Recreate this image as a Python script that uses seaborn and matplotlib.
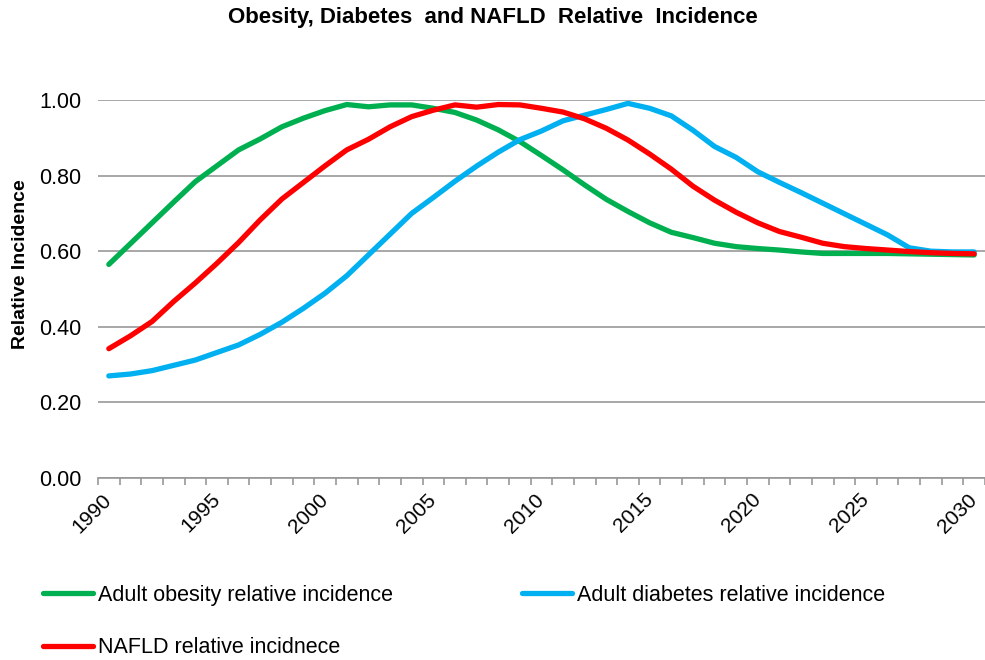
"""Obesity, diabetes and NAFLD relative incidence, 1990-2030."""

import matplotlib

matplotlib.use("Agg")

import matplotlib.pyplot as plt
import pandas as pd
import seaborn as sns
from matplotlib.ticker import FixedLocator

# ----------------------------------------------------------------------------
# data
# ----------------------------------------------------------------------------

years = list(range(1990, 2031))

obesity = [
    0.565, 0.620, 0.675, 0.730, 0.784, 0.826, 0.868, 0.897, 0.929, 0.952,
    0.972, 0.988, 0.982, 0.987, 0.987, 0.978, 0.967, 0.947, 0.921, 0.890,
    0.853, 0.815, 0.775, 0.737, 0.705, 0.675, 0.650, 0.636, 0.621, 0.612,
    0.607, 0.603, 0.598, 0.594, 0.594, 0.594, 0.594, 0.593, 0.592, 0.591,
    0.590,
]
diabetes = [
    0.270, 0.275, 0.284, 0.298, 0.312, 0.332, 0.352, 0.380, 0.412, 0.449,
    0.489, 0.535, 0.590, 0.645, 0.700, 0.742, 0.785, 0.825, 0.862, 0.895,
    0.918, 0.945, 0.960, 0.975, 0.991, 0.978, 0.958, 0.920, 0.877, 0.848,
    0.810, 0.782, 0.755, 0.727, 0.699, 0.671, 0.643, 0.609, 0.600, 0.598,
    0.598,
]
nafld = [
    0.342, 0.376, 0.414, 0.467, 0.516, 0.568, 0.623, 0.683, 0.738, 0.782,
    0.826, 0.868, 0.896, 0.929, 0.956, 0.973, 0.987, 0.981, 0.988, 0.987,
    0.978, 0.968, 0.950, 0.925, 0.894, 0.857, 0.817, 0.772, 0.735, 0.703,
    0.675, 0.652, 0.637, 0.621, 0.612, 0.607, 0.603, 0.599, 0.596, 0.594,
    0.593,
]

series_names = [
    "Adult obesity relative incidence",
    "Adult diabetes relative incidence",
    "NAFLD relative incidnece",
]
series_colors = ["#00B050", "#00B0F0", "#FF0000"]
label_years = list(range(1990, 2031, 5))
y_ticks = [0.0, 0.2, 0.4, 0.6, 0.8, 1.0]

df = pd.concat(
    [
        pd.DataFrame({"year": years, "value": vals, "series": name})
        for name, vals in zip(series_names, [obesity, diabetes, nafld])
    ],
    ignore_index=True,
)

# ----------------------------------------------------------------------------
# figure
# ----------------------------------------------------------------------------

sns.set_theme(style="white")
plt.rcParams["font.family"] = ["Liberation Sans", "DejaVu Sans"]
plt.rcParams["text.color"] = "black"
plt.rcParams["axes.labelcolor"] = "black"

fig = plt.figure(figsize=(9.85, 6.6), dpi=100)
ax = fig.add_axes([0.0995, 0.2758, 0.9005, 0.5727])

sns.lineplot(
    data=df, x="year", y="value", hue="series",
    hue_order=series_names, palette=series_colors,
    linewidth=3.8, ax=ax, legend=False,
)
for ln in ax.get_lines():
    ln.set_solid_capstyle("round")
    ln.set_solid_joinstyle("round")

grid_col = "#989898"
ax.set_xlim(years[0] - 0.5, years[-1] + 0.5)
ax.set_ylim(0, 1.0)
ax.set_yticks(y_ticks)
ax.set_yticklabels([f"{v:.2f}" for v in y_ticks])
ax.yaxis.grid(True, color=grid_col, linewidth=1.2)
ax.set_axisbelow(True)

ax.set_xticks(label_years)
ax.set_xticklabels([str(y) for y in label_years])
ax.xaxis.set_minor_locator(FixedLocator([y - 0.5 for y in years] + [years[-1] + 0.5]))
ax.tick_params(axis="x", which="major", length=0, pad=13.5, labelsize=15,
               labelcolor="black")
ax.tick_params(axis="x", which="minor", length=5, width=1.2, color=grid_col,
               direction="out", bottom=True)
ax.tick_params(axis="y", length=0, pad=12, labelsize=15.5, labelcolor="black")
for lab in ax.get_xticklabels():
    lab.set_rotation(45)
    lab.set_ha("right")
    lab.set_va("center")
    lab.set_rotation_mode("anchor")

for side in ["top", "right", "left"]:
    ax.spines[side].set_visible(False)
ax.spines["bottom"].set_color(grid_col)
ax.spines["bottom"].set_linewidth(1.2)

ax.set_xlabel("")
ax.set_ylabel("Relative Incidence", fontsize=14, fontweight="bold")
ax.yaxis.set_label_coords(-0.078, 0.566)

fig.text(0.5, 1 - 18 / 660, "Obesity, Diabetes  and NAFLD  Relative  Incidence",
         ha="center", va="center", fontsize=16, fontweight="bold")

# legend: two per row, so feed it column-wise
lines = ax.get_lines()
order = [0, 2, 1]
fig.legend(
    [lines[i] for i in order], [series_names[i] for i in order],
    ncol=2, loc="center left", bbox_to_anchor=(42.7 / 985, 1 - 621.5 / 660),
    frameon=False, fontsize=15.5, handlelength=2.35, handletextpad=0.2,
    columnspacing=6.0, labelspacing=1.45, borderpad=0, borderaxespad=0,
)

fig.savefig("out.png", dpi=100)
